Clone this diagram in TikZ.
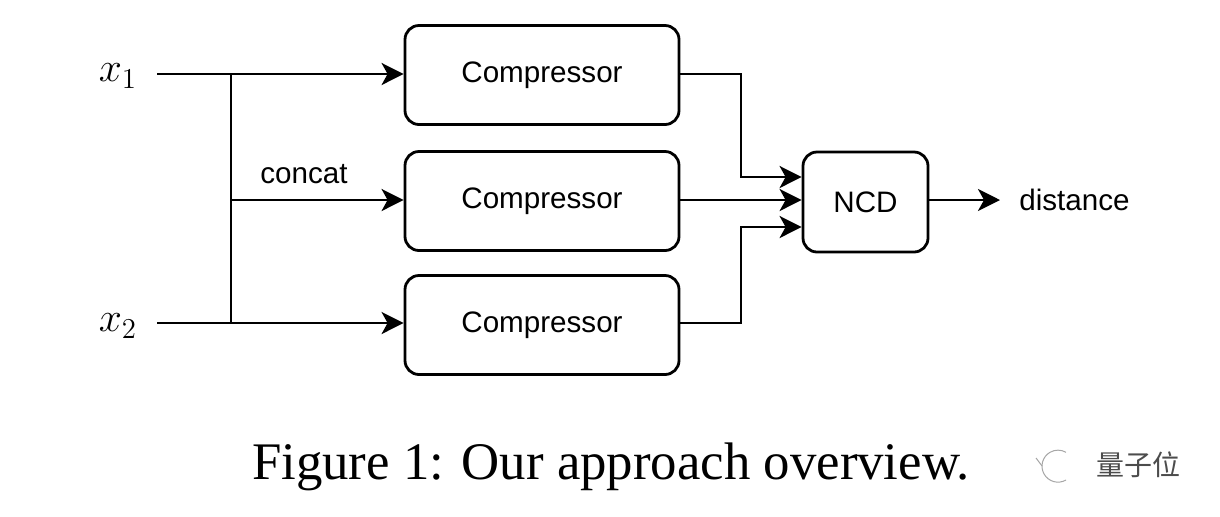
\documentclass[tikz,border=0pt]{standalone}
\usepackage{fontspec}
\setmainfont{Liberation Serif}
\setsansfont{Liberation Sans}
\newfontfamily\cjk{Noto Sans CJK SC}
\usetikzlibrary{arrows.meta,calc}
\begin{document}
\begin{tikzpicture}[x=0.5pt,y=-0.5pt,
  line width=1.4pt,
  box/.style={draw,rounded corners=7pt,inner sep=0pt,font=\sffamily\fontsize{14.8}{17}\selectfont},
  lbl/.style={inner sep=0pt,font=\sffamily\fontsize{14.8}{17}\selectfont},
  arr/.style={-{Stealth[length=11pt,width=11pt,inset=3pt]}},
  wire/.style={line cap=rect}]
\fill[white] (0,0) rectangle (1220,516);
\useasboundingbox (0,0) rectangle (1220,516);
% inputs
\node[inner sep=0pt,font=\fontsize{20}{24}\selectfont] (x1) at (118,76) {$x_{1}$};
\node[inner sep=0pt,font=\fontsize{20}{24}\selectfont] (x2) at (118,326) {$x_{2}$};
\coordinate (in1) at (157,74);
\coordinate (in2) at (157,323);
\coordinate (t) at (231,74);
\coordinate (b) at (231,323);
\coordinate (m) at (231,200);
% compressors
\node[box,minimum width=137pt,minimum height=49.5pt] (c1) at (542,75) {Compressor};
\node[box,minimum width=137pt,minimum height=49.5pt] (c2) at (542,201) {Compressor};
\node[box,minimum width=137pt,minimum height=49.5pt] (c3) at (542,325) {Compressor};
\node[lbl] (cc) at (304,174) {concat};
% NCD
\node[box,minimum width=62.5pt,minimum height=50pt] (ncd) at (865.5,202) {NCD};
\node[lbl,anchor=west] (dist) at (1018,200) {distance};
\coordinate (j1) at (741,177);
\coordinate (j3) at (741,227);
% wires
\draw[arr] (in1) -- (in1 -| c1.west);
\draw[arr] (in2) -- (in2 -| c3.west);
\draw[wire] (t) -- (b);
\draw[arr] (m) -- (m -| c2.west);
\draw[arr] (c1.east |- in1) -| (j1) -- (j1 -| ncd.west);
\draw[arr] (c2.east |- m) -- (m -| ncd.west);
\draw[arr] (c3.east |- in2) -| (j3) -- (j3 -| ncd.west);
\draw[arr] (ncd.east |- dist.west) -- ([xshift=-9pt]dist.west);
% caption
\node[inner sep=0pt,font=\fontsize{26.4}{30}\selectfont] (cap) at (611,467) {Figure 1: Our approach overview.};
% watermark
\node[inner sep=0pt,text=black!70,font=\cjk\fontsize{14}{16}\selectfont] (wm) at (1138,465) {量子位};
\draw[black!35,line width=0.5pt] (1066,480) arc[start angle=60,end angle=300,radius=16];
\draw[black!35,line width=0.5pt] (1036,458) -- (1042,466);
\end{tikzpicture}
\end{document}
